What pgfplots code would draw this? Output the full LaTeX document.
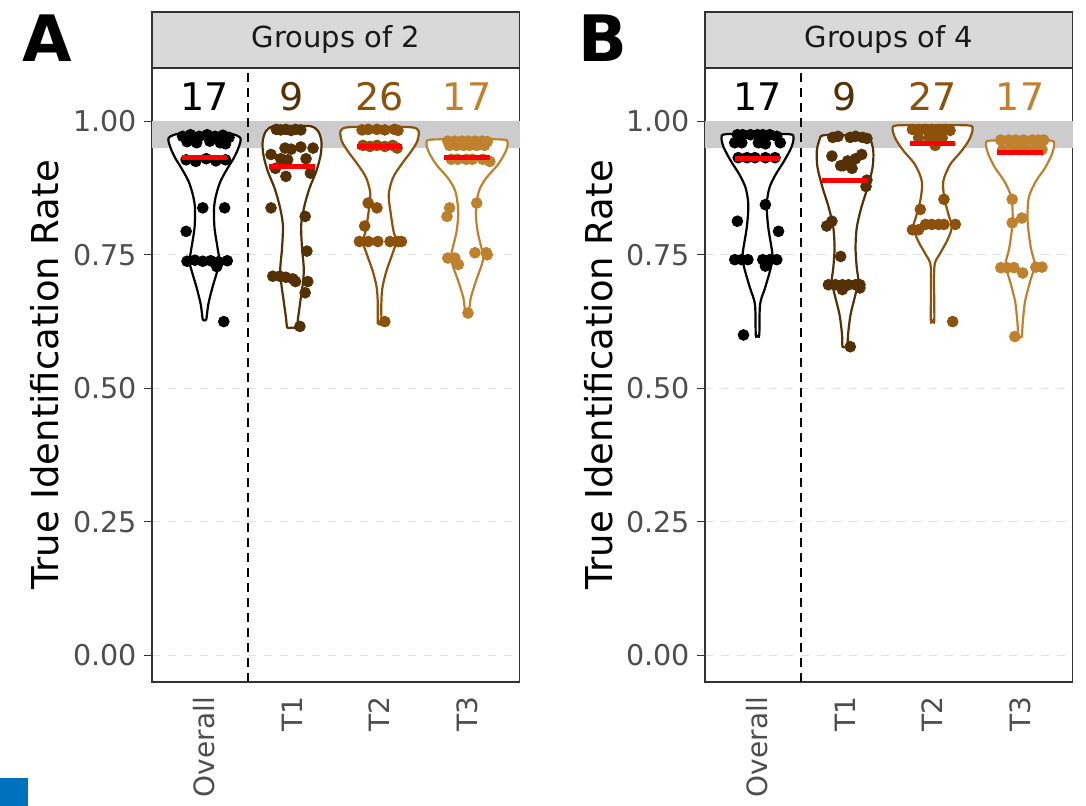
\documentclass[border=0pt]{standalone}
\usepackage{pgfplots}
\pgfplotsset{compat=1.18}
\usepackage{pgfplotstable}
\usepackage{fontspec}
\setmainfont{DejaVu Sans}

\definecolor{tone0}{HTML}{000000}
\definecolor{tone1}{HTML}{543005}
\definecolor{tone2}{HTML}{8C510A}
\definecolor{tone3}{HTML}{BF812D}
\definecolor{stripfill}{HTML}{D9D9D9}
\definecolor{frame}{HTML}{333333}
\definecolor{ticktext}{HTML}{4D4D4D}
\definecolor{band}{HTML}{CCCCCC}
\definecolor{corner}{HTML}{0072BD}

% ---- violin outlines: value v, half-width w (category units) ----
\pgfplotstableread{
v w
0.977 0
0.977 0.286
0.969 0.409
0.951 0.389
0.932 0.337
0.913 0.266
0.888 0.183
0.863 0.134
0.838 0.109
0.801 0.114
0.763 0.149
0.738 0.171
0.719 0.145
0.688 0.089
0.657 0.043
0.629 0.020
0.629 0
}\vAo
\pgfplotstableread{
v w
0.991 0
0.991 0.210
0.982 0.297
0.963 0.335
0.938 0.328
0.907 0.278
0.876 0.202
0.844 0.145
0.807 0.105
0.763 0.114
0.726 0.134
0.700 0.126
0.663 0.095
0.632 0.069
0.614 0.054
0.614 0
}\vAa
\pgfplotstableread{
v w
0.989 0
0.989 0.362
0.982 0.446
0.963 0.431
0.944 0.362
0.919 0.248
0.894 0.152
0.863 0.105
0.826 0.129
0.794 0.160
0.775 0.191
0.750 0.143
0.719 0.077
0.688 0.032
0.657 0.020
0.622 0.020
0.622 0
}\vAb
\pgfplotstableread{
v w
0.966 0
0.966 0.408
0.960 0.463
0.944 0.442
0.919 0.352
0.894 0.219
0.869 0.134
0.832 0.101
0.794 0.120
0.750 0.181
0.732 0.168
0.700 0.099
0.669 0.042
0.641 0.020
0.641 0
}\vAc
\pgfplotstableread{
v w
0.976 0
0.976 0.366
0.969 0.411
0.951 0.386
0.926 0.305
0.901 0.209
0.876 0.137
0.844 0.105
0.801 0.123
0.750 0.171
0.726 0.152
0.688 0.086
0.657 0.029
0.600 0.020
0.600 0
}\vBo
\pgfplotstableread{
v w
0.974 0
0.974 0.248
0.966 0.291
0.944 0.323
0.913 0.314
0.876 0.257
0.838 0.185
0.801 0.134
0.763 0.120
0.726 0.134
0.700 0.152
0.675 0.118
0.638 0.063
0.600 0.034
0.578 0.029
0.578 0
}\vBa
\pgfplotstableread{
v w
0.9925 0
0.9925 0.408
0.985 0.457
0.966 0.419
0.944 0.328
0.919 0.200
0.888 0.123
0.857 0.134
0.826 0.181
0.801 0.219
0.775 0.162
0.750 0.077
0.726 0.020
0.629 0.020
0.629 0
}\vBb
\pgfplotstableread{
v w
0.964 0
0.964 0.347
0.957 0.389
0.938 0.362
0.913 0.286
0.888 0.181
0.857 0.099
0.813 0.086
0.763 0.123
0.732 0.166
0.700 0.114
0.663 0.057
0.625 0.031
0.597 0.020
0.597 0
}\vBc

% ---- individual rates (jittered position x, rate y) ----
\pgfplotstableread{
x y
0.75 0.972
0.84 0.975
0.94 0.972
1.03 0.975
1.12 0.972
1.21 0.974
1.28 0.970
0.80 0.962
0.91 0.960
1.06 0.963
1.18 0.960
1.24 0.958
0.79 0.928
0.90 0.925
1.02 0.930
1.13 0.926
1.24 0.928
0.98 0.838
1.23 0.838
0.79 0.794
0.80 0.738
0.89 0.740
0.98 0.738
1.07 0.739
1.16 0.737
1.26 0.739
1.14 0.728
1.22 0.625
}\pAo
\pgfplotstableread{
x y
1.82 0.985
1.87 0.984
1.93 0.985
1.99 0.983
2.04 0.985
2.10 0.984
1.92 0.950
1.99 0.948
2.10 0.952
2.24 0.950
1.76 0.938
1.87 0.930
1.95 0.928
2.16 0.930
1.81 0.912
1.93 0.897
2.21 0.903
1.76 0.838
2.15 0.822
2.17 0.757
1.78 0.710
1.86 0.710
1.93 0.708
2.01 0.705
2.04 0.700
2.18 0.700
2.15 0.679
2.09 0.616
}\pAa
\pgfplotstableread{
x y
2.80 0.984
2.87 0.985
2.97 0.985
3.06 0.984
3.17 0.985
3.21 0.983
2.81 0.955
2.89 0.953
2.97 0.955
3.06 0.953
3.15 0.955
3.20 0.950
2.87 0.847
2.97 0.838
2.83 0.804
2.77 0.775
2.87 0.775
2.98 0.775
3.12 0.775
3.21 0.775
3.25 0.775
3.06 0.625
}\pAb
\pgfplotstableread{
x y
3.78 0.963
3.86 0.963
3.94 0.963
4.01 0.963
4.09 0.963
4.17 0.963
4.23 0.962
3.80 0.955
3.88 0.955
3.96 0.955
4.03 0.955
4.11 0.955
4.20 0.955
3.82 0.929
3.89 0.929
3.99 0.929
4.06 0.929
4.18 0.929
4.26 0.925
4.11 0.847
3.80 0.838
3.77 0.822
3.78 0.744
3.86 0.744
3.90 0.732
4.09 0.754
4.22 0.754
4.23 0.750
4.01 0.641
}\pAc
\pgfplotstableread{
x y
0.77 0.975
0.83 0.975
0.92 0.975
1.00 0.975
1.06 0.975
1.14 0.975
1.22 0.972
0.74 0.960
0.82 0.960
1.01 0.960
1.09 0.958
1.26 0.960
0.78 0.932
0.88 0.932
0.97 0.932
1.09 0.932
1.20 0.932
1.09 0.844
0.77 0.813
1.24 0.794
0.74 0.741
0.82 0.741
0.89 0.741
1.06 0.741
1.14 0.741
1.22 0.741
1.09 0.729
0.84 0.600
}\pBo
\pgfplotstableread{
x y
1.86 0.970
1.92 0.972
2.06 0.970
2.12 0.972
2.20 0.970
2.25 0.968
1.85 0.935
2.03 0.926
2.12 0.930
2.19 0.938
1.98 0.917
2.08 0.912
1.95 0.917
2.25 0.890
2.24 0.878
1.79 0.804
1.85 0.813
1.95 0.747
1.81 0.694
1.89 0.694
1.97 0.694
2.04 0.694
2.12 0.694
2.17 0.694
1.97 0.685
2.17 0.688
2.06 0.578
}\pBa
\pgfplotstableread{
x y
2.77 0.985
2.84 0.985
2.92 0.985
2.99 0.985
3.07 0.985
3.15 0.985
3.20 0.983
2.84 0.969
2.96 0.969
3.03 0.969
3.11 0.969
3.03 0.955
3.13 0.854
2.86 0.835
2.92 0.807
2.99 0.807
3.07 0.807
3.13 0.807
3.26 0.807
2.77 0.797
2.84 0.797
3.23 0.625
}\pBb
\pgfplotstableread{
x y
3.78 0.965
3.87 0.965
3.95 0.965
4.04 0.965
4.14 0.965
4.21 0.965
4.27 0.965
3.80 0.947
3.89 0.947
3.99 0.947
4.08 0.947
4.18 0.947
4.25 0.947
3.91 0.854
4.02 0.819
3.91 0.810
3.78 0.726
3.85 0.726
3.93 0.726
4.03 0.716
4.18 0.727
4.25 0.727
3.94 0.597
}\pBc

% one violin: #1 position, #2 outline table, #3 colour
% (each half is filled white, closing along the centre line, then outlined)
\newcommand{\violin}[3]{%
  \addplot[draw=none, fill=white, smooth, tension=0.5] table[x expr={#1+\thisrow{w}}, y=v] {#2};
  \addplot[draw=none, fill=white, smooth, tension=0.5] table[x expr={#1-\thisrow{w}}, y=v] {#2};
  \addplot[#3, line width=1.1pt, smooth, tension=0.5] table[x expr={#1+\thisrow{w}}, y=v] {#2};
  \addplot[#3, line width=1.1pt, smooth, tension=0.5] table[x expr={#1-\thisrow{w}}, y=v] {#2};
}
% median bar, drawn as a wide dash marker so it stays above the point markers
\newcommand{\median}[2]{%
  \addplot[only marks, mark=-, mark size=11.4pt, mark options={red, line width=2.5pt}] coordinates {(#1,#2)};
}
% jittered points of one group
\newcommand{\jitterdots}[2]{%
  \addplot[only marks, mark=*, mark size=2.7pt, color=#1] table[x=x, y=y] {#2};
}

\tikzset{count/.style={font=\fontsize{19}{22}\selectfont, anchor=base}}
\pgfplotsset{
  panel/.style={
    scale only axis, width=183.8pt, height=307pt,
    xmin=0.4, xmax=4.6, ymin=-0.05, ymax=1.10,
    xtick={1,2,3,4}, xticklabels={Overall,T1,T2,T3},
    ytick={0,0.25,0.5,0.75,1}, yticklabels={0.00,0.25,0.50,0.75,1.00},
    xtick style={draw=none},
    ytick style={frame, line width=0.6pt},
    ytick pos=left,
    tick align=outside, major tick length=4pt,
    xticklabel style={rotate=90, anchor=east, font=\fontsize{14}{16}\selectfont, text=ticktext},
    yticklabel style={font=\fontsize{14.3}{16}\selectfont, text=ticktext},
    ylabel={True Identification Rate},
    ylabel style={font=\fontsize{18.5}{22}\selectfont},
    axis line style={frame, line width=0.6pt},
    ymajorgrids,
    major grid style={black!12, line width=0.5pt, dash pattern=on 4pt off 4pt},
    clip=false,
  },
}

\begin{document}
\begin{tikzpicture}
\path[use as bounding box] (0,0) rectangle (543pt,403pt);

% ---------------- panel A ----------------
\begin{axis}[panel, at={(76pt,62pt)}, anchor=south west]
  \addplot[draw=none, fill=band] coordinates {(0.4,0.95) (4.6,0.95) (4.6,1.0) (0.4,1.0)};
  \addplot[black, line width=1pt, dash pattern=on 4.5pt off 3pt] coordinates {(1.5,-0.05) (1.5,1.10)};
  \violin{1}{\vAo}{tone0}
  \violin{2}{\vAa}{tone1}
  \violin{3}{\vAb}{tone2}
  \violin{4}{\vAc}{tone3}
  \jitterdots{tone0}{\pAo}
  \jitterdots{tone1}{\pAa}
  \jitterdots{tone2}{\pAb}
  \jitterdots{tone3}{\pAc}
  \median{1}{0.932}
  \median{2}{0.916}
  \median{3}{0.953}
  \median{4}{0.932}
  \node[count, text=tone0] at (axis cs:1,1.02) {17};
  \node[count, text=tone1] at (axis cs:2,1.02) {9};
  \node[count, text=tone2] at (axis cs:3,1.02) {26};
  \node[count, text=tone3] at (axis cs:4,1.02) {17};
  \draw[fill=stripfill, draw=frame, line width=0.6pt] (rel axis cs:0,1) rectangle ([yshift=28pt]rel axis cs:1,1);
  \node[font=\fontsize{14.5}{16}\selectfont, text=black!90] at ([yshift=14pt]rel axis cs:0.5,1) {Groups of 2};
\end{axis}

% ---------------- panel B ----------------
\begin{axis}[panel, at={(352.5pt,62pt)}, anchor=south west]
  \addplot[draw=none, fill=band] coordinates {(0.4,0.95) (4.6,0.95) (4.6,1.0) (0.4,1.0)};
  \addplot[black, line width=1pt, dash pattern=on 4.5pt off 3pt] coordinates {(1.5,-0.05) (1.5,1.10)};
  \violin{1}{\vBo}{tone0}
  \violin{2}{\vBa}{tone1}
  \violin{3}{\vBb}{tone2}
  \violin{4}{\vBc}{tone3}
  \jitterdots{tone0}{\pBo}
  \jitterdots{tone1}{\pBa}
  \jitterdots{tone2}{\pBb}
  \jitterdots{tone3}{\pBc}
  \median{1}{0.930}
  \median{2}{0.889}
  \median{3}{0.958}
  \median{4}{0.942}
  \node[count, text=tone0] at (axis cs:1,1.02) {17};
  \node[count, text=tone1] at (axis cs:2,1.02) {9};
  \node[count, text=tone2] at (axis cs:3,1.02) {27};
  \node[count, text=tone3] at (axis cs:4,1.02) {17};
  \draw[fill=stripfill, draw=frame, line width=0.6pt] (rel axis cs:0,1) rectangle ([yshift=28pt]rel axis cs:1,1);
  \node[font=\fontsize{14.5}{16}\selectfont, text=black!90] at ([yshift=14pt]rel axis cs:0.5,1) {Groups of 4};
\end{axis}

% panel tags
\node[anchor=base west, inner sep=0pt, font=\fontsize{32}{36}\selectfont\bfseries] at (11pt,372pt) {A};
\node[anchor=base west, inner sep=0pt, font=\fontsize{32}{36}\selectfont\bfseries] at (289pt,372pt) {B};
\fill[corner] (0,0) rectangle (14pt,14pt);
\end{tikzpicture}
\end{document}
